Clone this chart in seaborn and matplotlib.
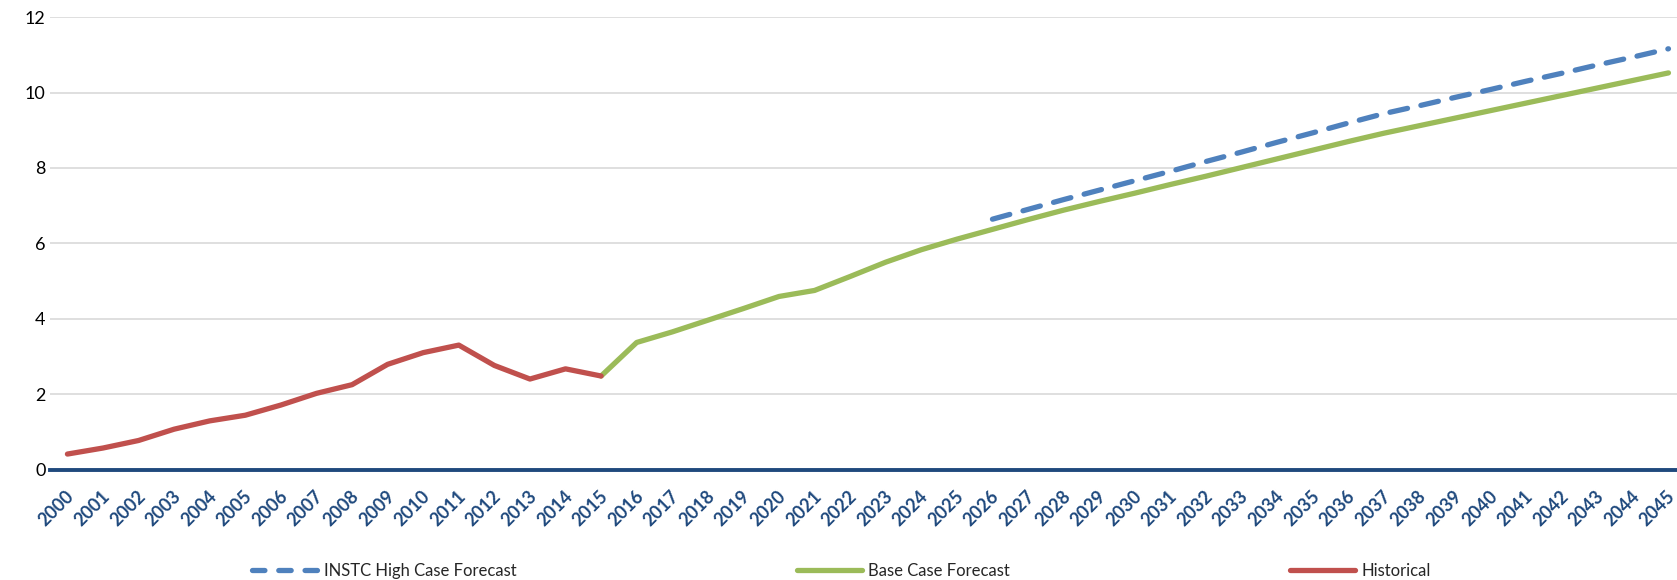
import pandas as pd
import numpy as np
import matplotlib
matplotlib.use('Agg')
import matplotlib.pyplot as plt
import matplotlib.transforms as mtransforms
import seaborn as sns

# ---- data ----
hist_years = list(range(2000, 2016))
hist_values = [0.41, 0.57, 0.77, 1.07, 1.29, 1.44, 1.71, 2.02, 2.25, 2.79, 3.10, 3.30,
               2.76, 2.40, 2.67, 2.48]

base_years = list(range(2015, 2046))
base_values = [2.48, 3.37, 3.65, 3.96, 4.27, 4.59, 4.75, 5.12, 5.50, 5.83, 6.11,
               6.37, 6.63, 6.88, 7.11, 7.33, 7.56, 7.78, 8.01, 8.24, 8.47, 8.70,
               8.92, 9.12, 9.32, 9.52, 9.72, 9.92, 10.12, 10.32, 10.52]

high_years = list(range(2026, 2046))
high_values = [6.64, 6.90, 7.16, 7.41, 7.66, 7.91, 8.17, 8.42, 8.68, 8.93, 9.19,
               9.44, 9.65, 9.87, 10.08, 10.30, 10.51, 10.73, 10.94, 11.16]

series_names = ['INSTC High Case Forecast', 'Base Case Forecast', 'Historical']
colors = {'INSTC High Case Forecast': '#4F81BD',
          'Base Case Forecast': '#9BBB59',
          'Historical': '#C0504D'}

df = pd.concat([
    pd.DataFrame({'year': high_years, 'value': high_values, 'series': series_names[0]}),
    pd.DataFrame({'year': base_years, 'value': base_values, 'series': series_names[1]}),
    pd.DataFrame({'year': hist_years, 'value': hist_values, 'series': series_names[2]}),
])

# ---- style ----
sns.set_theme(style="white")
plt.rcParams['font.family'] = ['Lato', 'DejaVu Sans']

fig = plt.figure(figsize=(16.77, 5.80), dpi=100)
ax = fig.add_axes([0.0296, 0.1905, 0.9704, 0.78])

sns.lineplot(data=df, x='year', y='value', hue='series', style='series',
             hue_order=series_names, style_order=series_names,
             palette=colors,
             dashes={series_names[0]: (3.4, 2.6), series_names[1]: '', series_names[2]: ''},
             linewidth=3.8, ax=ax, legend=True)

for ln in ax.lines:
    ln.set_solid_capstyle('round')
    ln.set_dash_capstyle('round')

ax.set_xlim(1999.5, 2045.24)
ax.set_ylim(0, 12)
ax.set_yticks(np.arange(0, 13, 2))
ax.yaxis.grid(True, color='#D9D9D9', linewidth=1.2)
ax.xaxis.grid(False)
ax.set_axisbelow(True)

for s in ['top', 'right', 'left']:
    ax.spines[s].set_visible(False)
ax.spines['bottom'].set_color('#1F497D')
ax.spines['bottom'].set_linewidth(2.8)
ax.spines['bottom'].set_zorder(5)

ax.set_xlabel('')
ax.set_ylabel('')
ax.tick_params(axis='both', length=0)
ax.tick_params(axis='y', labelsize=13, pad=3, labelcolor='black')

# rotated bold year labels
ax.set_xticks(list(range(2000, 2046)))
ax.set_xticklabels([str(y) for y in range(2000, 2046)], rotation=45, ha='right',
                   rotation_mode='anchor', fontsize=13, fontweight='bold', color='#1F497D')
ax.tick_params(axis='x', pad=13)
offset = mtransforms.ScaledTranslation(-2 / 100, 0, fig.dpi_scale_trans)
for lbl in ax.get_xticklabels():
    lbl.set_transform(lbl.get_transform() + offset)

# legend along the bottom
handles, labels = ax.get_legend_handles_labels()
ax.get_legend().remove()
leg = fig.legend(handles, labels, loc='center', bbox_to_anchor=(0.502, 0.0155), ncol=3,
                 frameon=False, fontsize=12, handlelength=3.9, handletextpad=0.4,
                 columnspacing=16.8)
for h, name in zip(leg.get_lines(), labels):
    h.set_linewidth(3.8)
    h.set_solid_capstyle('round')
    h.set_dash_capstyle('round')
    if name == series_names[0]:
        h.set_dashes((2.35, 2.63))

plt.savefig('out.png', dpi=100)
plt.close()
